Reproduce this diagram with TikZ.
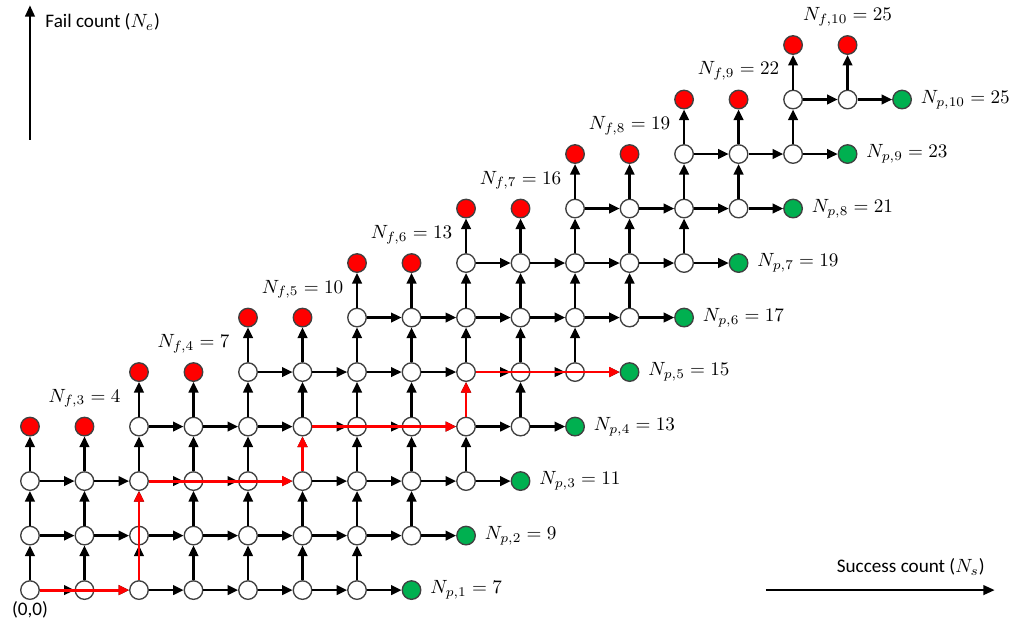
\documentclass[tikz,border=0pt]{standalone}
\usepackage{fontspec}
\newfontfamily\axisfont{Carlito}
\usetikzlibrary{arrows.meta,positioning}
\definecolor{passgreen}{RGB}{0,176,80}

\tikzset{
    cell/.style={circle, draw=black!75, fill=white, line width=0.7pt, minimum size=0.34cm, inner sep=0pt},
    failcell/.style={cell, fill=red},
    passcell/.style={cell, fill=passgreen},
    edge/.style={line width=1.2pt, -{Triangle[length=5.5pt, width=5pt]}},
    rededge/.style={edge, red, line width=1.5pt},
    axis/.style={line width=1.3pt, -{Triangle[length=6pt, width=5pt]}}
}

\begin{document}
\begin{tikzpicture}[x=1cm, y=1cm]
        \useasboundingbox (-0.55,-0.606) rectangle (17.98,10.826);

        % Cells
        \foreach \j in {0,...,9} {
            \pgfmathtruncatemacro{\first}{max(0,2*(\j-2))}
            \pgfmathtruncatemacro{\last}{6+\j}
            \pgfmathtruncatemacro{\goal}{7+\j}
            \pgfmathtruncatemacro{\k}{\j+1}
            \pgfmathtruncatemacro{\val}{2*\j+7}
            \foreach \i in {\first,...,\last}
                \node[cell] (c-\i-\j) at (\i,\j) {};
            \node[passcell] (c-\goal-\j) at (\goal,\j) {};
            \node[right=0.04cm of c-\goal-\j] (np-\k) {$N_{p,\k} = \val$};
        }
        \foreach \j in {3,...,10} {
            \pgfmathtruncatemacro{\a}{2*(\j-3)}
            \pgfmathtruncatemacro{\b}{2*(\j-3)+1}
            \pgfmathtruncatemacro{\val}{3*\j-5}
            \node[failcell] (c-\a-\j) at (\a,\j) {};
            \node[failcell] (c-\b-\j) at (\b,\j) {};
            \node (nf-\j) at (\b,\j+0.52) {$N_{f,\j} = \val$};
        }

        % Transitions
        \foreach \j in {0,...,9} {
            \pgfmathtruncatemacro{\first}{max(0,2*(\j-2))}
            \pgfmathtruncatemacro{\last}{6+\j}
            \pgfmathtruncatemacro{\up}{\j+1}
            \foreach \i in {\first,...,\last} {
                \pgfmathtruncatemacro{\nx}{\i+1}
                \draw[edge] (c-\i-\j) -- (c-\nx-\j);
                \draw[edge] (c-\i-\j) -- (c-\i-\up);
            }
        }

        % Highlighted path
        \draw[rededge] (c-0-0) -- (c-2-0);
        \draw[rededge] (c-2-0) -- (c-2-2);
        \draw[rededge] (c-2-2) -- (c-5-2);
        \draw[rededge] (c-5-2) -- (c-5-3);
        \draw[rededge] (c-5-3) -- (c-8-3);
        \draw[rededge] (c-8-3) -- (c-8-4);
        \draw[rededge] (c-8-4) -- (c-11-4);

        % Axes
        \coordinate (ybot) at (0,8.26);
        \coordinate (ytop) at (0,10.73);
        \coordinate (xleft) at (13.5,0);
        \coordinate (xright) at (17.7,0);
        \draw[axis] (ybot) -- (ytop);
        \draw[axis] (xleft) -- (xright);
        \node[anchor=west] (ylabel) at (0.16,10.42) {\axisfont Fail count ($N_e$)};
        \node[anchor=east] (xlabel) at (17.64,0.42) {\axisfont Success count ($N_s$)};
        \node (origin) at (0,-0.37) {\axisfont (0,0)};
    \end{tikzpicture}
\end{document}
